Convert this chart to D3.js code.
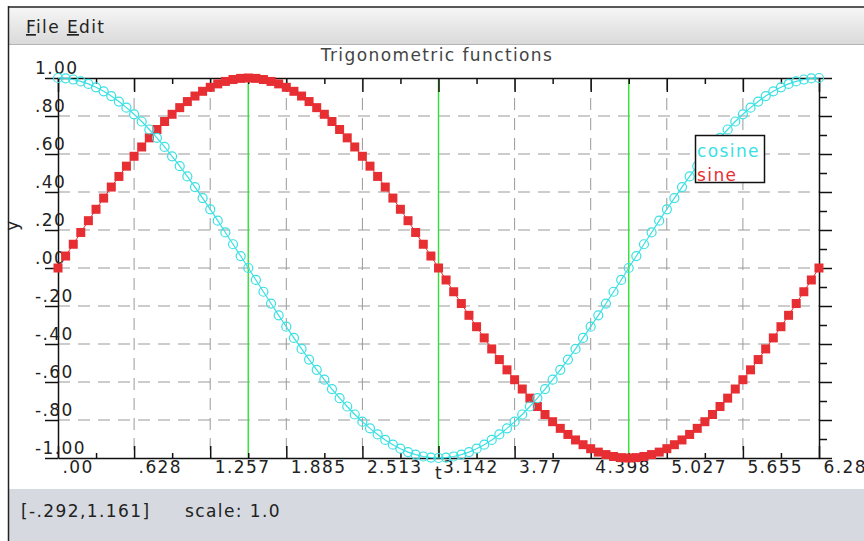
<!DOCTYPE html>
<html>
<head>
  <meta charset="utf-8">
  <script src="https://cdn.jsdelivr.net/npm/d3@7"></script>
  <style type="text/css">
    body {
      margin: 0;
      background: #fff;
    }
    svg {
      display: block;
      font-family: "DejaVu Sans", sans-serif;
    }
    text {
      letter-spacing: 1.4px;
      font-size: 17px;
    }
    .axis {
      font-family: "DejaVu Sans", sans-serif;
    }
    .axis path, .axis line {
      stroke: #111;
      stroke-width: 1.5;
    }
    .axis text {
      font-size: 17px;
      fill: #222;
    }
    .grid line {
      stroke: #999;
      stroke-width: 1;
      stroke-dasharray: 12, 8;
    }
  </style>
</head>
<body>
  <script type="text/javascript">

  // sample points of the two curves
  const tValues = [
    0, 0.063, 0.126, 0.188, 0.251, 0.314, 0.377, 0.440, 0.503, 0.565,
    0.628, 0.691, 0.754, 0.817, 0.880, 0.942, 1.005, 1.068, 1.131, 1.194,
    1.257, 1.319, 1.382, 1.445, 1.508, 1.571, 1.634, 1.696, 1.759, 1.822,
    1.885, 1.948, 2.011, 2.073, 2.136, 2.199, 2.262, 2.325, 2.388, 2.450,
    2.513, 2.576, 2.639, 2.702, 2.765, 2.827, 2.890, 2.953, 3.016, 3.079,
    3.142, 3.204, 3.267, 3.330, 3.393, 3.456, 3.519, 3.581, 3.644, 3.707,
    3.770, 3.833, 3.896, 3.958, 4.021, 4.084, 4.147, 4.210, 4.273, 4.335,
    4.398, 4.461, 4.524, 4.587, 4.650, 4.712, 4.775, 4.838, 4.901, 4.964,
    5.027, 5.089, 5.152, 5.215, 5.278, 5.341, 5.404, 5.466, 5.529, 5.592,
    5.655, 5.718, 5.781, 5.843, 5.906, 5.969, 6.032, 6.095, 6.158, 6.220,
    6.283
  ];

  const sineValues = [
    0, .063, .125, .187, .249, .309, .368, .426, .482, .536,
    .588, .637, .685, .729, .771, .809, .844, .876, .905, .930,
    .951, .969, .982, .992, .998, 1, .998, .992, .982, .969,
    .951, .930, .905, .876, .844, .809, .771, .729, .685, .637,
    .588, .536, .482, .426, .368, .309, .249, .187, .125, .063,
    0, -.063, -.125, -.187, -.249, -.309, -.368, -.426, -.482, -.536,
    -.588, -.637, -.685, -.729, -.771, -.809, -.844, -.876, -.905, -.930,
    -.951, -.969, -.982, -.992, -.998, -1, -.998, -.992, -.982, -.969,
    -.951, -.930, -.905, -.876, -.844, -.809, -.771, -.729, -.685, -.637,
    -.588, -.536, -.482, -.426, -.368, -.309, -.249, -.187, -.125, -.063,
    0
  ];

  const cosineValues = [
    1, .998, .992, .982, .969, .951, .930, .905, .876, .844,
    .809, .771, .729, .685, .637, .588, .536, .482, .426, .368,
    .309, .249, .187, .125, .063, 0, -.063, -.125, -.187, -.249,
    -.309, -.368, -.426, -.482, -.536, -.588, -.637, -.685, -.729, -.771,
    -.809, -.844, -.876, -.905, -.930, -.951, -.969, -.982, -.992, -.998,
    -1, -.998, -.992, -.982, -.969, -.951, -.930, -.905, -.876, -.844,
    -.809, -.771, -.729, -.685, -.637, -.588, -.536, -.482, -.426, -.368,
    -.309, -.249, -.187, -.125, -.063, 0, .063, .125, .187, .249,
    .309, .368, .426, .482, .536, .588, .637, .685, .729, .771,
    .809, .844, .876, .905, .930, .951, .969, .982, .992, .998,
    1
  ];

  // ticks
  const xTicks = [0, 0.6283, 1.2566, 1.885, 2.5133, 3.1416, 3.7699, 4.3982, 5.0265, 5.6549, 6.2832];
  const xTickLabels = ['.00', '.628', '1.257', '1.885', '2.513', '3.142', '3.77', '4.398', '5.027', '5.655', '6.28'];
  const xMinorTicks = [0.3142, 0.9425, 1.5708, 2.1991, 2.8274, 3.4558, 4.0841, 4.7124, 5.3407, 5.969];
  const yTicks = [-1, -0.8, -0.6, -0.4, -0.2, 0, 0.2, 0.4, 0.6, 0.8, 1];
  const yTickLabels = ['-1.00', '-.80', '-.60', '-.40', '-.20', '.00', '.20', '.40', '.60', '.80', '1.00'];
  const yMinorTicks = [-0.9, -0.7, -0.5, -0.3, -0.1, 0.1, 0.3, 0.5, 0.7, 0.9];

  // green marker lines at pi/2, pi, 3pi/2
  const markerLines = [1.5708, 3.1416, 4.7124];

  const legendNames = ['cosine', 'sine'];
  const colors = {cosine: '#3ae0e4', sine: '#e62e33', marker: '#2fe22f'};

  const W = 864, H = 541;
  const margin = {top: 78, bottom: 83, left: 58, right: 45};
  const width = W - margin.left - margin.right;
  const height = H - margin.top - margin.bottom;

  const svg = d3.select('body').append('svg')
    .attr('width', W)
    .attr('height', H);

  // window chrome: menu bar, status bar, border
  const defs = svg.append('defs');
  const grad = defs.append('linearGradient').attr('id', 'menuGrad')
    .attr('x1', 0).attr('y1', 0).attr('x2', 0).attr('y2', 1);
  grad.append('stop').attr('offset', '0%').attr('stop-color', '#f6f6f6');
  grad.append('stop').attr('offset', '100%').attr('stop-color', '#dadada');

  svg.append('rect').attr('x', 8).attr('y', 7).attr('width', W - 8).attr('height', 37)
    .attr('fill', 'url(#menuGrad)');
  svg.append('line').attr('x1', 8).attr('x2', W).attr('y1', 44.5).attr('y2', 44.5)
    .attr('stroke', '#b2b4b8');
  svg.append('rect').attr('x', 8).attr('y', 489).attr('width', W - 8).attr('height', H - 489)
    .attr('fill', '#d6d9df');
  svg.append('line').attr('x1', 8.5).attr('x2', 8.5).attr('y1', 6).attr('y2', H)
    .attr('stroke', '#222').attr('stroke-width', 1.5);
  svg.append('line').attr('x1', 8).attr('x2', W).attr('y1', 7).attr('y2', 7)
    .attr('stroke', '#222').attr('stroke-width', 1.5);

  const menu = svg.append('text').attr('x', 26).attr('y', 33).attr('fill', '#222');
  menu.append('tspan').attr('text-decoration', 'underline').text('F');
  menu.append('tspan').text('ile  ');
  menu.append('tspan').attr('text-decoration', 'underline').text('E');
  menu.append('tspan').text('dit');

  svg.append('text').attr('x', 21).attr('y', 517).attr('fill', '#222').text('[-.292,1.161]');
  svg.append('text').attr('x', 185).attr('y', 517).attr('fill', '#222').text('scale: 1.0');

  // plot group
  const g = svg.append('g')
    .attr('transform', `translate(${margin.left},${margin.top})`);

  const x = d3.scaleLinear().domain([0, 6.2832]).range([0, width]);
  const y = d3.scaleLinear().domain([-1, 1]).range([height, 0]);

  // dashed grid
  const grid = g.append('g').attr('class', 'grid');
  grid.selectAll('.vx').data(xTicks.slice(1, -1)).enter().append('line')
    .attr('x1', d => x(d)).attr('x2', d => x(d))
    .attr('y1', 0).attr('y2', height);
  grid.selectAll('.hy').data(yTicks.slice(1, -1)).enter().append('line')
    .attr('x1', 0).attr('x2', width)
    .attr('y1', d => y(d)).attr('y2', d => y(d));

  // green marker lines
  g.selectAll('.marker').data(markerLines).enter().append('line')
    .attr('x1', d => x(d)).attr('x2', d => x(d))
    .attr('y1', 0).attr('y2', height)
    .attr('stroke', colors.marker).attr('stroke-width', 1.4);

  // axes
  const bottomAxis = d3.axisBottom(x).tickValues(xTicks)
    .tickFormat((d, i) => xTickLabels[i]).tickSizeInner(-12).tickSizeOuter(0);
  g.append('g').attr('class', 'axis')
    .attr('transform', `translate(0,${height})`)
    .call(bottomAxis)
    .call(a => a.selectAll('text')
      .attr('x', 4).attr('y', 15).attr('dy', null).attr('text-anchor', 'start'));

  g.append('g').attr('class', 'axis')
    .attr('transform', `translate(0,${height})`)
    .call(d3.axisBottom(x).tickValues(xMinorTicks).tickFormat('').tickSizeInner(-5).tickSizeOuter(0))
    .call(a => a.select('.domain').remove());

  g.append('g').attr('class', 'axis')
    .call(d3.axisTop(x).tickValues(xTicks).tickFormat('').tickSizeInner(-14).tickSizeOuter(0));
  g.append('g').attr('class', 'axis')
    .call(d3.axisTop(x).tickValues(xMinorTicks).tickFormat('').tickSizeInner(-6).tickSizeOuter(0))
    .call(a => a.select('.domain').remove());

  const leftAxis = d3.axisLeft(y).tickValues(yTicks)
    .tickFormat((d, i) => yTickLabels[i]).tickSizeInner(13).tickSizeOuter(0);
  g.append('g').attr('class', 'axis')
    .call(leftAxis)
    .call(a => a.selectAll('text')
      .attr('x', -23).attr('y', -5).attr('dy', null).attr('text-anchor', 'start'));

  g.append('g').attr('class', 'axis')
    .attr('transform', `translate(${width},0)`)
    .call(d3.axisRight(y).tickValues(yTicks).tickFormat('').tickSizeInner(13).tickSizeOuter(0));
  g.append('g').attr('class', 'axis')
    .attr('transform', `translate(${width},0)`)
    .call(d3.axisRight(y).tickValues(yMinorTicks).tickFormat('').tickSizeInner(8).tickSizeOuter(0))
    .call(a => a.select('.domain').remove());

  // series
  const sineData = tValues.map((t, i) => ({t: t, v: sineValues[i]}));
  const cosineData = tValues.map((t, i) => ({t: t, v: cosineValues[i]}));
  const line = d3.line().x(d => x(d.t)).y(d => y(d.v));

  g.append('path').datum(sineData)
    .attr('d', line).attr('fill', 'none')
    .attr('stroke', colors.sine).attr('stroke-width', 1);
  g.selectAll('.sq').data(sineData).enter().append('rect')
    .attr('x', d => x(d.t) - 4.5).attr('y', d => y(d.v) - 4.5)
    .attr('width', 9).attr('height', 9)
    .attr('fill', colors.sine);

  g.append('path').datum(cosineData)
    .attr('d', line).attr('fill', 'none')
    .attr('stroke', colors.cosine).attr('stroke-width', 1.2);
  g.selectAll('.ci').data(cosineData).enter().append('circle')
    .attr('cx', d => x(d.t)).attr('cy', d => y(d.v)).attr('r', 4.5)
    .attr('fill', 'none')
    .attr('stroke', colors.cosine).attr('stroke-width', 1.2);

  // legend
  svg.append('rect').attr('x', 695.5).attr('y', 135.5).attr('width', 69).attr('height', 47)
    .attr('fill', '#fff').attr('stroke', '#111').attr('stroke-width', 1.5);
  svg.selectAll('.legend').data(legendNames).enter().append('text')
    .attr('x', 697).attr('y', (d, i) => 157 + i * 24)
    .attr('fill', d => colors[d])
    .text(d => d);

  // titles
  svg.append('text').attr('x', 437).attr('y', 61).attr('text-anchor', 'middle')
    .attr('fill', '#444').text('Trigonometric functions');
  svg.append('text').attr('x', 435).attr('y', 479).attr('fill', '#222').text('t');
  svg.append('text').attr('transform', 'translate(18,225) rotate(-90)')
    .attr('text-anchor', 'middle').attr('fill', '#222').text('y');

  </script>
</body>
</html>
